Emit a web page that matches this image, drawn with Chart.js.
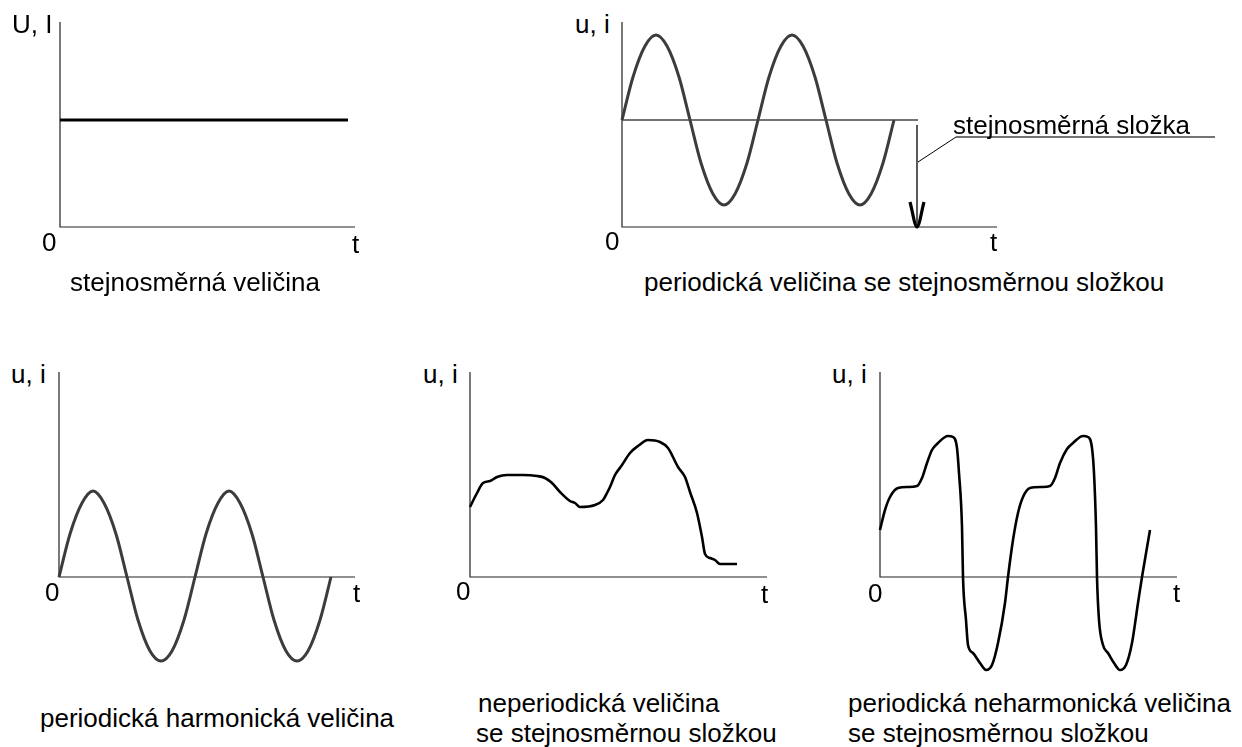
<!DOCTYPE html>
<html lang="cs">
<head>
<meta charset="utf-8">
<title>Druhy elektrických veličin</title>
<script src="https://cdn.jsdelivr.net/npm/chart.js@4/dist/chart.umd.min.js"></script>
<style>
  body {
    margin: 0;
    width: 1242px;
    height: 747px;
    background: #fff;
    position: relative;
    overflow: hidden;
    font-family: "Liberation Sans", Arial, sans-serif;
  }
  canvas { position: absolute; }
  .lbl {
    position: absolute;
    font-size: 26px;
    line-height: 30px;
    color: #000;
    white-space: nowrap;
  }
</style>
</head>
<body>
<canvas id="dc"></canvas>
<canvas id="pulse"></canvas>
<canvas id="harm"></canvas>
<canvas id="aper"></canvas>
<canvas id="nonharm"></canvas>

<!-- popisky os a grafů (top = účaří - 24) -->
<div class="lbl" style="left:12px;top:9px">U, I</div>
<div class="lbl" style="left:42px;top:227px">0</div>
<div class="lbl" style="left:352px;top:229px">t</div>
<div class="lbl" style="left:70px;top:267px">stejnosměrná veličina</div>

<div class="lbl" style="left:575px;top:9px">u, i</div>
<div class="lbl" style="left:605px;top:226px">0</div>
<div class="lbl" style="left:990px;top:227px">t</div>
<div class="lbl" style="left:953px;top:110px">stejnosměrná složka</div>
<div class="lbl" style="left:644px;top:267px">periodická veličina se stejnosměrnou složkou</div>

<div class="lbl" style="left:11px;top:359px">u, i</div>
<div class="lbl" style="left:45px;top:577px">0</div>
<div class="lbl" style="left:353px;top:578px">t</div>
<div class="lbl" style="left:40px;top:703px">periodická harmonická veličina</div>

<div class="lbl" style="left:423px;top:359px">u, i</div>
<div class="lbl" style="left:456px;top:576px">0</div>
<div class="lbl" style="left:761px;top:579px">t</div>
<div class="lbl" style="left:478px;top:688px">neperiodická veličina</div>
<div class="lbl" style="left:476px;top:718px">se stejnosměrnou složkou</div>

<div class="lbl" style="left:832px;top:359px">u, i</div>
<div class="lbl" style="left:868px;top:578px">0</div>
<div class="lbl" style="left:1173px;top:578px">t</div>
<div class="lbl" style="left:848px;top:688px">periodická neharmonická veličina</div>
<div class="lbl" style="left:848px;top:718px">se stejnosměrnou složkou</div>

<script>
// stejnosměrná veličina
const dcTime = [0, 288];
const dcValue = [107, 107];

// periodická veličina se stejnosměrnou složkou
const pulseTime = [0, 11, 23, 34, 45, 57, 68, 79, 91, 102, 113, 125, 136,
                   147, 159, 170, 181, 193, 204, 215, 227, 238, 249, 261, 272];
const pulseValue = [107, 150, 181, 192, 181, 150, 107, 64, 33, 22, 33, 64, 107,
                    150, 181, 192, 181, 150, 107, 64, 33, 22, 33, 64, 107];
const offsetLevel = 107;
const offsetEnd = 296;
const arrowAt = 295;
const arrowTop = 102;
const leaderTime = [296, 334, 593];
const leaderValue = [65, 90, 90];

// periodická harmonická veličina
const harmTime = [0, 11, 23, 34, 45, 57, 68, 79, 91, 102, 113, 125, 136,
                  147, 159, 170, 181, 193, 204, 215, 227, 238, 249, 261, 272];
const harmValue = [0, 43, 74, 86, 74, 43, 0, -43, -74, -84, -74, -43, 0,
                   43, 74, 86, 74, 43, 0, -43, -74, -84, -74, -43, 0];

// neperiodická veličina se stejnosměrnou složkou
const aperTime = [0, 7, 13, 20, 27, 37, 53, 67, 75, 82, 90, 100, 105, 110, 125, 133, 137, 140,
                  145, 152, 160, 168, 178, 190, 198, 208, 215, 220, 227, 232, 235, 240, 245,
                  250, 257, 267];
const aperValue = [70, 84, 94, 96, 100, 102, 102, 101, 99, 94, 85, 76, 74, 70, 72, 77, 84, 90,
                   102, 112, 124, 131, 137, 135, 129, 110, 100, 85, 64, 40, 23, 19, 17,
                   13, 13, 13];

// periodická neharmonická veličina se stejnosměrnou složkou
const nonharmTime = [0, 5, 10, 18, 28, 37, 42, 47, 52, 58, 68, 73, 77, 79, 82, 83, 86, 88, 93,
                     100, 106, 112, 118, 125, 128, 133, 138, 143, 150, 162, 170, 175, 180, 187,
                     193, 203, 208, 212, 214, 216, 217, 219, 223, 228, 234, 240, 246, 252, 258,
                     262, 270];
const nonharmValue = [47, 67, 80, 89, 90, 91, 99, 114, 127, 134, 141, 140, 129, 104, 50, 0, -43,
                      -68, -76, -86, -93, -88, -66, -26, 0, 37, 64, 80, 89, 90, 91, 99, 114, 128,
                      134, 141, 140, 129, 104, 50, 0, -43, -68, -76, -86, -93, -88, -66, -26,
                      0, 47];

const pts = (xs, ys) => xs.map((x, i) => ({ x: x, y: ys[i] }));

// osy kreslí plugin přes škály grafu
const axesPlugin = {
    id: 'axes',
    beforeDatasetsDraw(chart) {
        const { ctx, scales: { x, y } } = chart;
        const x0 = x.getPixelForValue(0);
        const y0 = y.getPixelForValue(0);
        ctx.save();
        ctx.strokeStyle = '#222';
        ctx.lineWidth = 1.2;
        ctx.beginPath();
        ctx.moveTo(x0, y.getPixelForValue(y.max));
        ctx.lineTo(x0, y0);
        ctx.lineTo(x.getPixelForValue(x.max), y0);
        ctx.stroke();
        ctx.restore();
    }
};

function line(data, color, width, extra) {
    return Object.assign({
        data: data,
        borderColor: color,
        borderWidth: width,
        pointRadius: 0,
        fill: false,
        clip: false,
        cubicInterpolationMode: 'monotone'
    }, extra || {});
}

// box = poloha počátku a rozměry os na stránce
function panel(id, box, datasets) {
    const pad = 10;
    const padRight = box.padRight || pad;
    const canvas = document.getElementById(id);
    canvas.width = box.len + pad + padRight;
    canvas.height = box.height + 2 * pad;
    canvas.style.left = (box.left - pad) + 'px';
    canvas.style.top = (box.top - pad) + 'px';

    new Chart(canvas, {
        type: 'line',
        data: { datasets: datasets },
        options: {
            responsive: false,
            animation: false,
            devicePixelRatio: 1,
            events: [],
            layout: { padding: { left: pad, right: padRight, top: pad, bottom: pad } },
            plugins: { legend: { display: false }, tooltip: { enabled: false } },
            scales: {
                x: { type: 'linear', display: false, min: 0, max: box.len },
                y: { type: 'linear', display: false, min: box.yMin, max: box.yMax }
            }
        },
        plugins: [axesPlugin]
    });
}

panel('dc', { left: 60, top: 22, len: 295, height: 205, yMin: 0, yMax: 205 }, [
    line(pts(dcTime, dcValue), '#000', 3, { tension: 0 })
]);

panel('pulse', { left: 622, top: 22, len: 375, height: 205, yMin: 0, yMax: 205, padRight: 228 }, [
    line(pts([0, offsetEnd], [offsetLevel, offsetLevel]), '#444', 1.4, { tension: 0 }),
    line(pts(pulseTime, pulseValue), '#3c3c3c', 3),
    line(pts([arrowAt, arrowAt], [arrowTop, 0]), '#000', 1.3, { tension: 0 }),
    line(pts([arrowAt - 7, arrowAt, arrowAt + 7], [25, 0, 25]), '#000', 3.2,
         { tension: 0, borderJoinStyle: 'miter' }),
    line(pts(leaderTime.slice(0, 2), leaderValue.slice(0, 2)), '#000', 1, { tension: 0 }),
    line(pts(leaderTime.slice(1), leaderValue.slice(1)), '#444', 1.4, { tension: 0 })
]);

panel('harm', { left: 59, top: 372, len: 296, height: 305, yMin: -100, yMax: 205 }, [
    line(pts(harmTime, harmValue), '#3c3c3c', 3)
]);

panel('aper', { left: 470, top: 372, len: 297, height: 205, yMin: 0, yMax: 205 }, [
    line(pts(aperTime, aperValue), '#000', 2.6)
]);

panel('nonharm', { left: 880, top: 372, len: 297, height: 305, yMin: -100, yMax: 205 }, [
    line(pts(nonharmTime, nonharmValue), '#000', 2.6)
]);
</script>
</body>
</html>
